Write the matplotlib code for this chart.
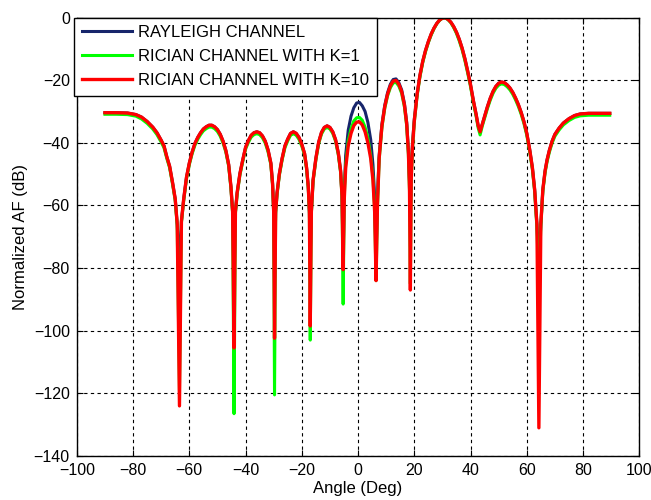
import numpy as np
import matplotlib
matplotlib.use('Agg')
import matplotlib.pyplot as plt

plt.rcParams['font.family'] = ['Liberation Sans', 'DejaVu Sans']

# angulo (grados)
angle = [-90, -86, -82, -79, -77, -75, -73, -71.5, -70, -69, -68, -67, -66, -65, -64.3, -63.5,
         -62.8, -62, -61, -60, -59, -58, -57, -56, -55, -54, -53, -52, -51, -50, -49, -48, -47, -46, -45.2, -44.6, -44.1,
         -43.6, -43, -42, -41, -40, -39, -38, -37, -36, -35, -34, -33, -32, -31, -30.4, -30.0, -29.7,
         -29.3, -28.8, -28, -27, -26, -25, -24, -23, -22, -21, -20, -19, -18.3, -17.7, -17.3, -17.0,
         -16.6, -16, -15, -14, -13, -12, -11, -10, -9, -8, -7, -6.2, -5.7, -5.3,
         -4.9, -4.4, -3.5, -2.5, -1.5, -0.5, 0.5, 1.5, 2.5, 3.5, 4.5, 5.3, 5.9, 6.4,
         6.9, 7.5, 8.5, 9.5, 10.5, 11.5, 12.5, 13.5, 14.5, 15.5, 16.5, 17.3, 17.9, 18.3, 18.6,
         18.9, 19.3, 20, 21, 22, 23, 24, 25, 26, 27, 28, 29, 30, 31, 32, 33, 34, 35, 36, 37, 38, 39, 40, 41, 42, 42.7, 43.4,
         44.2, 45, 46, 47, 48, 49, 50, 51, 52, 53, 54, 55, 56, 57, 58, 59, 60, 61, 62, 62.8, 63.6, 64.3,
         65, 65.7, 66.5, 67.2, 68, 69, 70, 71.5, 73, 75, 77, 79, 82, 86, 89.5]

# canal Rayleigh
af_rayleigh = [-30.4, -30.4, -30.5, -31.0, -31.8, -33.2, -35.0, -36.8, -39.2, -41.0, -44.5, -47.5, -52.5, -58, -66, -80,
               -65, -58, -51, -46.5, -43, -40.2, -38.3, -36.8, -35.6, -34.9, -34.4, -34.4, -34.9, -35.8, -37.3, -39.5, -42.5, -47, -54, -62, -84,
               -62, -56, -49.8, -45.5, -41.5, -39.3, -37.6, -36.8, -36.5, -36.8, -37.8, -39.5, -42.3, -46.5, -53, -62, -83,
               -62, -56, -50, -45, -41, -38.8, -37, -36.5, -37, -38.3, -40.5, -43.5, -48, -54, -62, -76,
               -62, -52, -45, -39.8, -36.7, -35.1, -34.6, -35.1, -36.5, -39, -43.4, -49, -57, -77,
               -55, -44, -36, -31.5, -28.8, -27.3, -27.1, -28.2, -30, -33.5, -39, -47, -57, -77,
               -57, -44, -34, -28, -24, -21.3, -19.8, -19.6, -20.8, -23.1, -27.5, -33.5, -42.5, -52, -62,
               -50, -41, -32.5, -24.5, -18.5, -14, -10.5, -7.7, -5.3, -3.4, -1.9, -0.8, -0.2, -0.1, -0.6, -1.5, -2.9, -4.7, -7, -9.8, -13.2, -17.2, -21.5, -26.5, -31, -34.5, -36,
               -34, -31.5, -28.5, -25.8, -23.6, -22, -21, -20.6, -20.8, -21.5, -22.5, -23.9, -25.7, -27.8, -30.3, -33.3, -37, -42, -48, -55, -66, -78,
               -66, -55, -49, -45.5, -42.5, -39.5, -37.3, -35.3, -33.7, -32.3, -31.3, -30.8, -30.6, -30.6, -30.6]

# canal Rician K=1
af_k1 = [-30.9, -30.9, -31.0, -31.5, -32.4, -33.8, -35.6, -37.4, -39.8, -41.6, -45.0, -48.0, -53, -58.5, -66.5, -119,
         -65.5, -58.5, -51.5, -47, -43.5, -40.8, -38.9, -37.4, -36.2, -35.5, -35.0, -35.0, -35.5, -36.4, -37.9, -40.1, -43, -47.5, -54.5, -62.5, -126.5,
         -62.5, -56.5, -50.3, -46, -42, -39.9, -38.2, -37.4, -37.1, -37.4, -38.4, -40.1, -42.9, -47, -53.5, -62.5, -120.5,
         -62.5, -56.5, -50.5, -45.5, -41.6, -39.4, -37.6, -37.1, -37.6, -38.9, -41.1, -44, -48.5, -54.5, -62.5, -103,
         -62.5, -52.5, -45.5, -40.3, -37.2, -35.6, -35.1, -35.6, -37, -39.5, -43.9, -49.5, -57.5, -91.5,
         -57, -47, -39.5, -35.5, -33, -32, -31.9, -32.8, -35, -38.5, -44, -51, -61, -84,
         -60.5, -45.5, -35, -29, -25, -22.4, -20.9, -20.7, -21.9, -24.2, -28.6, -34.6, -43.6, -55.5, -85,
         -52.5, -42.5, -33.5, -25, -19, -14.4, -10.9, -8, -5.6, -3.6, -2.0, -0.9, -0.2, -0.1, -0.7, -1.7, -3.2, -5.1, -7.5, -10.3, -13.8, -17.8, -22.1, -27.1, -31.6, -35.2, -37.5,
         -34.6, -32.1, -29.1, -26.4, -24.2, -22.6, -21.6, -21.2, -21.4, -22.1, -23.1, -24.5, -26.3, -28.4, -30.9, -33.9, -37.6, -42.6, -48.6, -55.6, -67, -84.5,
         -66.5, -55.6, -49.6, -46.1, -43.1, -40.1, -37.9, -35.9, -34.3, -32.9, -31.9, -31.4, -31.2, -31.2, -31.2]

# canal Rician K=10
af_k10 = [-30.4, -30.4, -30.5, -31.0, -31.8, -33.2, -35.0, -36.8, -39.2, -41.0, -44.5, -47.5, -52.5, -58, -66, -124,
          -65, -58, -51, -46.5, -43, -40.2, -38.3, -36.8, -35.6, -34.9, -34.4, -34.4, -34.9, -35.8, -37.3, -39.5, -42.5, -47, -54, -62, -105.5,
          -62, -56, -49.8, -45.5, -41.5, -39.3, -37.6, -36.8, -36.5, -36.8, -37.8, -39.5, -42.3, -46.5, -53, -62, -102.4,
          -62, -56, -50, -45, -41, -38.8, -37, -36.5, -37, -38.3, -40.5, -43.5, -48, -54, -62, -98.5,
          -62, -52, -45, -39.8, -36.7, -35.1, -34.6, -35.1, -36.5, -39, -43.4, -49, -57, -80.5,
          -58, -48, -41, -37, -34.5, -33.4, -33.3, -34.3, -36.5, -40, -45, -52, -62, -84,
          -60, -45, -34.5, -28.5, -24.5, -21.8, -20.3, -20.1, -21.3, -23.6, -28, -34, -43, -55, -87,
          -52, -42, -33, -24.5, -18.5, -14, -10.5, -7.7, -5.3, -3.4, -1.9, -0.8, -0.2, -0.1, -0.6, -1.5, -2.9, -4.7, -7, -9.8, -13.2, -17.2, -21.5, -26.5, -31, -34.5, -36.5,
          -34, -31.5, -28.5, -25.8, -23.6, -22, -21, -20.6, -20.8, -21.5, -22.5, -23.9, -25.7, -27.8, -30.3, -33.3, -37, -42, -48, -55, -66, -131,
          -66, -55, -49, -45.5, -42.5, -39.5, -37.3, -35.3, -33.7, -32.3, -31.3, -30.8, -30.6, -30.6, -30.6]

labels = ['RAYLEIGH CHANNEL', 'RICIAN CHANNEL WITH K=1', 'RICIAN CHANNEL WITH K=10']

fig = plt.figure(figsize=(6.51, 5.0), dpi=100)
ax = fig.add_axes([0.118, 0.088, 0.864, 0.877])

ax.plot(angle, af_rayleigh, color='#17256b', linewidth=2.2, label=labels[0])
ax.plot(angle, af_k1, color='#00ff00', linewidth=2.2, label=labels[1])
ax.plot(angle, af_k10, color='#ff0000', linewidth=2.4, label=labels[2])

ax.set_xlim(-100, 100)
ax.set_ylim(-140, 0)
ax.set_xticks(np.arange(-100, 101, 20))
ax.set_yticks(np.arange(-140, 1, 20))
ax.grid(True, color='k', linestyle=(0, (3, 3)), linewidth=0.8)
ax.tick_params(direction='in', top=True, right=True, length=4, labelsize=11.5, pad=5)
for s in ax.spines.values():
    s.set_linewidth(1.0)

ax.set_xlabel('Angle (Deg)', fontsize=12, labelpad=2)
ax.set_ylabel('Normalized AF (dB)', fontsize=12)

leg = ax.legend(loc='upper left', bbox_to_anchor=(-0.005, 1.0), borderaxespad=0,
                fontsize=12, handlelength=3.0, handletextpad=0.4, labelspacing=0.55,
                borderpad=0.45, fancybox=False, framealpha=1, edgecolor='k')
leg.get_frame().set_linewidth(1.0)

plt.savefig('out.png', dpi=100)
